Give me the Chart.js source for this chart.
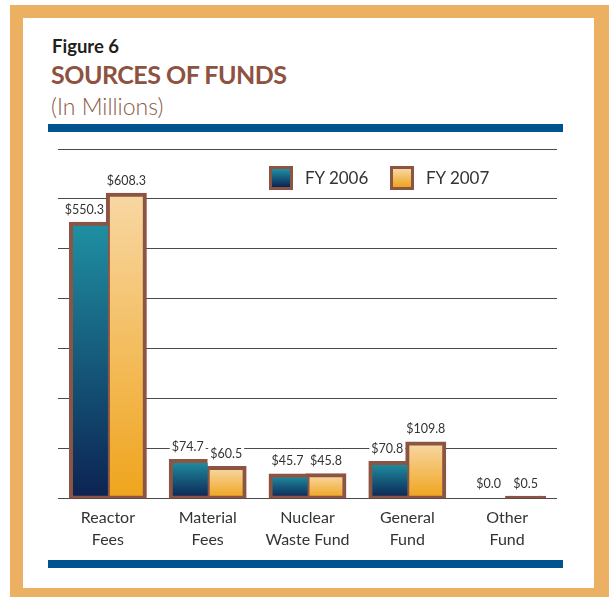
<!DOCTYPE html>
<html>
<head>
<meta charset="utf-8">
<script src="https://cdn.jsdelivr.net/npm/chart.js@4/dist/chart.umd.min.js"></script>
<style>
body { margin: 0; width: 609px; height: 597px; position: relative; overflow: hidden; background: #fff; font-family: Lato, sans-serif; }
#frame { position: absolute; left: 10px; top: 5px; right: 0; bottom: 0; background: #EBB062; }
#panel { position: absolute; left: 23px; top: 18px; width: 571px; height: 570px; background: #fff; }
.fig { position: absolute; left: 52px; top: 35px; font-size: 18.5px; font-weight: bold; color: #231f20; }
.tit { position: absolute; left: 51px; top: 59px; font-size: 25px; letter-spacing: -0.5px; font-weight: bold; color: #8D5240; }
.sub { position: absolute; left: 51px; top: 92px; font-size: 23px; font-weight: 300; color: #8B5A48; }
.rule { position: absolute; left: 48px; width: 515px; height: 8px; background: #00538F; }
.lg { position: absolute; top: 166px; font-size: 17px; color: #333; line-height: 24px; }
.lg span { display: inline-block; width: 18px; height: 18px; border: 3px solid #8C5443; vertical-align: top; margin-right: 12px; }
#wrap { position: absolute; left: 0; top: 0; width: 609px; height: 597px; }
</style>
</head>
<body>
<div id="frame"></div>
<div id="panel"></div>
<div class="fig">Figure 6</div>
<div class="tit">SOURCES OF FUNDS</div>
<div class="sub">(In Millions)</div>
<div class="rule" style="top:124px"></div>
<div class="rule" style="top:560px"></div>
<div id="wrap"><canvas id="grafico"></canvas></div>
<div class="lg" style="left:269px"><span style="background:linear-gradient(#1F90A3,#0C2352)"></span>FY 2006</div>
<div class="lg" style="left:390px"><span style="background:linear-gradient(#F8D7A3,#EFA41C)"></span>FY 2007</div>
<script>
const categorias = [['Reactor', 'Fees'], ['Material', 'Fees'], ['Nuclear', 'Waste Fund'], ['General', 'Fund'], ['Other', 'Fund']];
const fy2006 = [550.3, 74.7, 45.7, 70.8, 0.0];
const fy2007 = [608.3, 60.5, 45.8, 109.8, 0.5];
const eixoMax = 700;
const eixoPasso = 100;

const marrom = '#8C5443';

function gradiente(topo, base) {
    return function (c) {
        const chart = c.chart;
        if (c.type !== 'data' || !chart.chartArea) return base;
        const v = c.raw;
        if (!v) return 'rgba(0,0,0,0)';
        const y = chart.scales.y;
        const y1 = y.getPixelForValue(v);
        const y0 = y.getPixelForValue(0);
        if (y0 - y1 < 8) return marrom;
        const g = chart.ctx.createLinearGradient(0, y1, 0, y0);
        g.addColorStop(0, topo);
        g.addColorStop(1, base);
        return g;
    };
}

// rotulos de valor com fundo branco, desenhados antes das barras
const rotulos = {
    id: 'rotulos',
    beforeDatasetsDraw(chart) {
        const ctx = chart.ctx;
        ctx.save();
        ctx.font = '12.5px Lato';
        ctx.textAlign = 'center';
        ctx.textBaseline = 'middle';
        chart.data.datasets.forEach((ds, i) => {
            chart.getDatasetMeta(i).data.forEach((bar, j) => {
                const txt = '$' + ds.data[j].toFixed(1);
                const w = ctx.measureText(txt).width;
                let x = bar.x;
                if (i === 0) x = Math.min(x, bar.x + bar.width / 2 - w / 2 - 4);
                const y = Math.min(bar.y, bar.base) - 14;
                ctx.fillStyle = '#fff';
                ctx.fillRect(x - w / 2 - 2, y - 8, w + 4, 16);
                ctx.fillStyle = '#333';
                ctx.fillText(txt, x, y);
            });
        });
        ctx.restore();
    }
};

function criarGrafico() {
    const contexto = document.getElementById('grafico').getContext('2d');
    new Chart(contexto, {
        type: 'bar',
        data: {
            labels: categorias,
            datasets: [{
                label: 'FY 2006',
                data: fy2006,
                backgroundColor: gradiente('#1F90A3', '#0C2352'),
                borderColor: marrom,
                borderWidth: c => (c.raw === 0 ? 0 : 4),
                borderSkipped: 'right',
                inflateAmount: 2,
            }, {
                label: 'FY 2007',
                data: fy2007,
                backgroundColor: gradiente('#F8D7A3', '#EFA41C'),
                borderColor: marrom,
                borderWidth: c => (c.raw === 0 ? 0 : 4),
                borderSkipped: false,
                inflateAmount: 2,
            }],
        },
        options: {
            responsive: true,
            maintainAspectRatio: false,
            animation: false,
            layout: { padding: { left: 58, right: 52, top: 149, bottom: 46 } },
            categoryPercentage: 0.74,
            barPercentage: 1,
            plugins: {
                legend: { display: false },
                tooltip: { enabled: false },
            },
            scales: {
                x: {
                    grid: { display: false },
                    border: { display: false },
                    ticks: {
                        color: '#333',
                        font: { family: 'Lato', size: 16, lineHeight: 1.4 },
                        padding: 0,
                        maxRotation: 0,
                    },
                },
                y: {
                    min: 0,
                    max: eixoMax,
                    ticks: { display: false, stepSize: eixoPasso },
                    grid: { color: '#4a4a4a', lineWidth: 1, drawTicks: false },
                    border: { display: false },
                },
            },
        },
        plugins: [rotulos],
    });
}

criarGrafico();
</script>
</body>
</html>
